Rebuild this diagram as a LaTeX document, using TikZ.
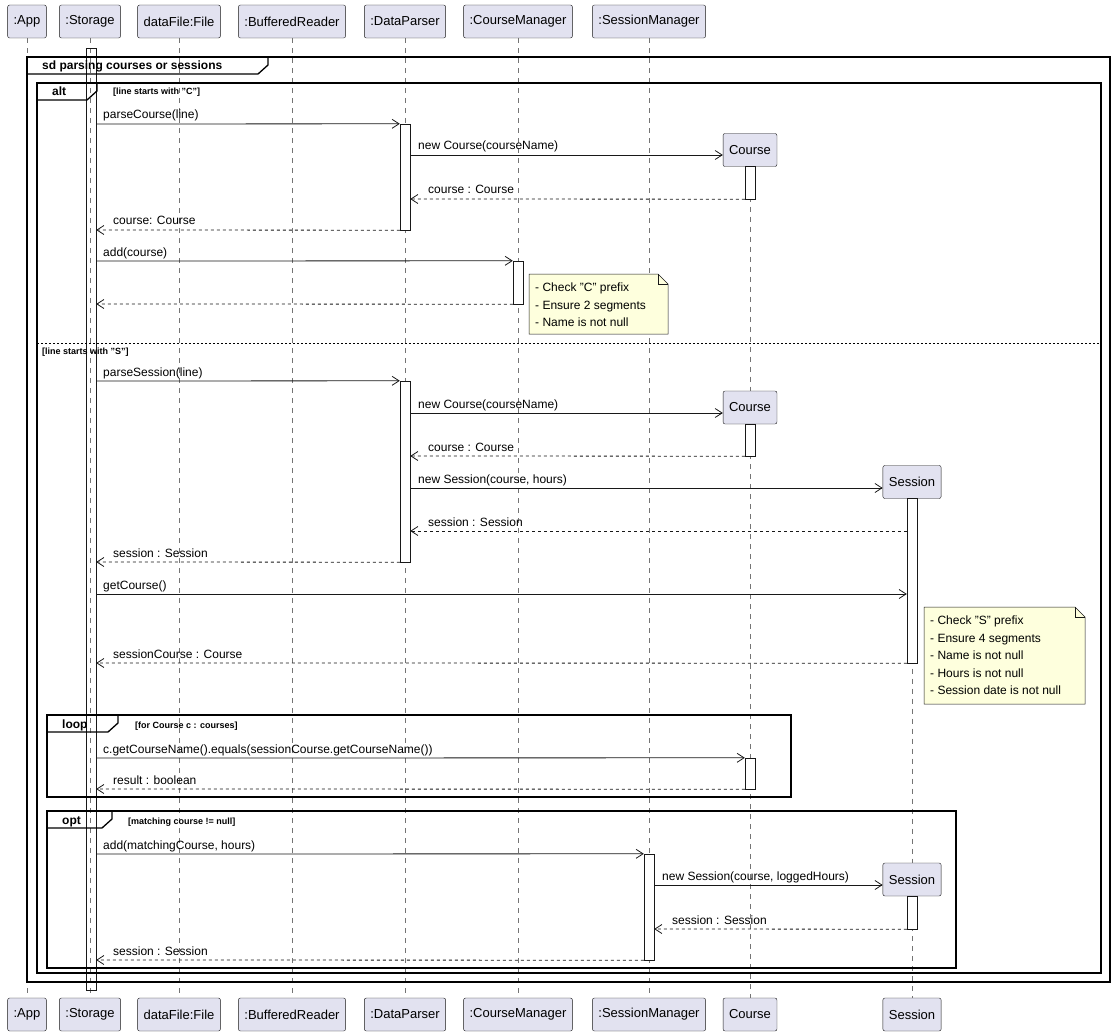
\documentclass[tikz,border=0pt]{standalone}
\usepackage{fontspec}
\setmainfont{Liberation Sans}
\usetikzlibrary{arrows.meta}
\definecolor{partfill}{HTML}{E2E2F0}
\definecolor{notefill}{HTML}{FEFFDD}
\definecolor{lineclr}{HTML}{181818}
\tikzset{
  part/.style = {draw=lineclr, fill=partfill, rounded corners=2pt, minimum height=33,
    inner xsep=6, font=\fontsize{13}{15}\selectfont},% participant box
  act/.style = {draw=lineclr, fill=white, minimum width=10, inner sep=0pt},% activation bar
  life/.style = {draw=lineclr!60, dash pattern=on 5pt off 5pt, line width=0.5pt},
  call/.style = {draw=lineclr, -{Straight Barb[length=7pt,width=9pt]}, line width=0.8pt},
  ret/.style = {call, dash pattern=on 3pt off 3pt},
  lab/.style = {anchor=base west, inner sep=0pt, font=\fontsize{12}{14}\selectfont},
  guard/.style = {anchor=base west, inner sep=0pt, font=\bfseries\fontsize{9}{11}\selectfont},
  frame/.style = {draw=black, line width=1.3pt},
  notetxt/.style = {anchor=north west, align=left, inner sep=0pt,
    font=\fontsize{12}{17.5}\selectfont}
}
\newcommand{\actbar}[4]{\node[act, minimum height={(#4-#3)*1pt}] (#1) at (#2,{(#3+#4)/2}) {};}
\newcommand{\fragment}[6]{% x0 y0 x1 y1 tab-end name
  \draw[frame] (#1,#2) rectangle (#3,#4);
  \draw[frame] (#1,#2+17) -- (#5-10,#2+17) -- (#5,#2+8) -- (#5,#2);
  \node[anchor=base west, font=\bfseries\fontsize{12}{14}\selectfont, inner sep=0pt] at (#1+15,#2+13) {#6};}
\newcommand{\note}[5]{% x0 y0 x1 y1 text
  \draw[lineclr, fill=notefill, line width=0.5pt] (#1,#2) -- (#3-10,#2) -- (#3,#2+10) -- (#3,#4) -- (#1,#4) -- cycle;
  \draw[lineclr, line width=0.5pt] (#3-10,#2) -- (#3-10,#2+10) -- (#3,#2+10);
  \node[notetxt] at (#1+6,#2+9) {#5};}

\begin{document}
\begin{tikzpicture}[x=1pt, y=-1pt]
\useasboundingbox (0,0) rectangle (1116,1035);

% participants, top and bottom
\foreach \nm/\x/\txt in {app/27/:App, st/90/:Storage, df/179/dataFile:File,
    br/292/:BufferedReader, dp/405/:DataParser, cm/518/:CourseManager,
    sm/649/:SessionManager}{
  \node[part] (\nm) at (\x,21.5) {\txt};
  \node[part] (\nm b) at (\x,1014.5) {\txt};
  \draw[life] (\nm.south) -- (\nm b.north);
}
\node[part] (cob) at (750,1014.5) {Course};
\node[part] (seb) at (912,1014.5) {Session};

% created participants
\node[part] (co1) at (750,150) {Course};
\node[part] (co2) at (750,407.5) {Course};
\node[part] (se1) at (912,482) {Session};
\node[part] (se2) at (912,879.5) {Session};
\draw[life] (co1.south) -- (co2.north);
\draw[life] (co2.south) -- (cob.north);
\draw[life] (se1.south) -- (se2.north);
\draw[life] (se2.south) -- (seb.north);

% storage activation, under the frames
\node[act, fill=none, minimum height=942] (sta) at (91,519) {};

% frames
\fragment{27}{57}{1110}{982}{268}{sd parsing courses or sessions}
\fragment{37}{83}{1101}{973}{97}{alt}
\node[guard] at (113,95) {[line starts with "C"]};
\draw[black, line width=0.5pt, dash pattern=on 2pt off 2pt] (37,343) -- (1101,343);
\node[guard] at (42,354) {[line starts with "S"]};

% activations
\actbar{dp1}{405}{124}{230}
\actbar{co1a}{750}{166}{199}
\actbar{cm1}{518}{261}{304}
\actbar{dp2}{405}{381}{562}
\actbar{co2a}{750}{424}{456}
\actbar{se1a}{912}{498}{663}

% course branch
\draw[call] (sta.east |- 0,124) -- (dp1.north west);
\node[lab] at (103,119) {parseCourse(line)};
\draw[call] (dp1.east |- 0,155) -- (co1.west |- 0,155);
\node[lab] at (418,150) {new Course(courseName)};
\draw[ret] (co1a.south west) -- (dp1.east |- 0,199);
\node[lab] at (428,194) {course : Course};
\draw[ret] (dp1.south west) -- (sta.east |- 0,230);
\node[lab] at (113,225) {course: Course};
\draw[call] (sta.east |- 0,261) -- (cm1.north west);
\node[lab] at (103,256) {add(course)};
\draw[ret] (cm1.south west) -- (sta.east |- 0,304);
\note{529}{274}{668}{334}{- Check "C" prefix\\- Ensure 2 segments\\- Name is not null}

% session branch
\draw[call] (sta.east |- 0,381) -- (dp2.north west);
\node[lab] at (103,376) {parseSession(line)};
\draw[call] (dp2.east |- 0,413) -- (co2.west |- 0,413);
\node[lab] at (418,408) {new Course(courseName)};
\draw[ret] (co2a.south west) -- (dp2.east |- 0,456);
\node[lab] at (428,451) {course : Course};
\draw[call] (dp2.east |- 0,488) -- (se1.west |- 0,488);
\node[lab] at (418,483) {new Session(course, hours)};
\draw[ret] (se1a.west |- 0,531) -- (dp2.east |- 0,531);
\node[lab] at (428,526) {session : Session};
\draw[ret] (dp2.south west) -- (sta.east |- 0,562);
\node[lab] at (113,557) {session : Session};
\draw[call] (sta.east |- 0,594) -- (se1a.west |- 0,594);
\node[lab] at (103,589) {getCourse()};
\draw[ret] (se1a.south west) -- (sta.east |- 0,663);
\node[lab] at (113,658) {sessionCourse : Course};
\note{924}{607}{1085}{704}{- Check "S" prefix\\- Ensure 4 segments\\- Name is not null\\- Hours is not null\\- Session date is not null}

% loop
\fragment{47}{715}{791}{797}{118}{loop}
\node[guard] at (135,728) {[for Course c : courses]};
\actbar{co3a}{750}{758}{789}
\draw[call] (sta.east |- 0,758) -- (co3a.north west);
\node[lab] at (103,753) {c.getCourseName().equals(sessionCourse.getCourseName())};
\draw[ret] (co3a.south west) -- (sta.east |- 0,789);
\node[lab] at (113,784) {result : boolean};

% opt
\fragment{47}{811}{956}{968}{112}{opt}
\node[guard] at (128,824) {[matching course != null]};
\actbar{sm1}{649}{854}{960}
\actbar{se2a}{912}{896}{929}
\draw[call] (sta.east |- 0,854) -- (sm1.north west);
\node[lab] at (103,849) {add(matchingCourse, hours)};
\draw[call] (sm1.east |- 0,885) -- (se2.west |- 0,885);
\node[lab] at (662,880) {new Session(course, loggedHours)};
\draw[ret] (se2a.south west) -- (sm1.east |- 0,929);
\node[lab] at (672,924) {session : Session};
\draw[ret] (sm1.south west) -- (sta.east |- 0,960);
\node[lab] at (113,955) {session : Session};
\end{tikzpicture}
\end{document}
